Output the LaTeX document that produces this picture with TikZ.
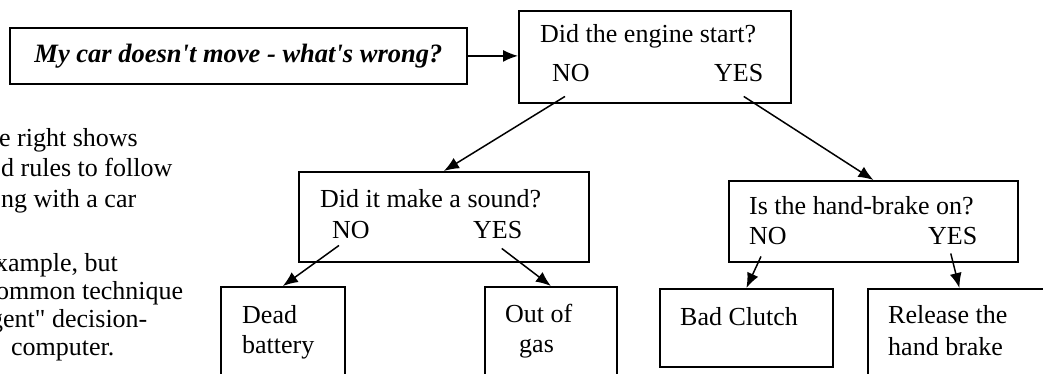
\documentclass[tikz,border=0pt]{standalone}
\usepackage{fontspec}
\setmainfont{Liberation Serif}[Ligatures=TeXOff]
\usetikzlibrary{arrows.meta}

\begin{document}
\begin{tikzpicture}[x=1pt,y=-1pt] % CAR
    \tikzset{%
        >={Latex[length=15pt,width=12pt]}, % filled heads
        box/.style={draw,line width=1.8pt,anchor=north west,inner sep=0pt},
        txt/.style={anchor=base west,inner sep=0pt,
                font=\fontsize{26}{30}\selectfont},
        link/.style={->,line width=1.5pt}%
    }
    \useasboundingbox (0,0) rectangle (1043,374);

    %% left column, cut off by the page edge

    \foreach \x/\y/\t [count=\i] in {-1/147/{e right shows},
            1/177/{d rules to follow}, -12/207/{ong with a car},
            -5/271/{xample, but}, -4/299/{ommon technique},
            -10/327/{gent" decision-}, 11/355/{computer.}}
        \node[txt] (para\i) at (\x,\y) {\t};

    %% boxes

    \node[box,minimum width=457,minimum height=56,
        font=\fontsize{26.5}{30}\selectfont\bfseries\itshape] (title) at (9,27)
        {My car doesn't move - what's wrong?};
    \node[box,minimum width=272,minimum height=92] (engine) at (518,10) {};
    \node[box,minimum width=290,minimum height=90] (sound) at (298,171) {};
    \node[box,minimum width=289,minimum height=81] (hand) at (728,180) {};
    \node[box,minimum width=124,minimum height=100] (dead) at (220,286) {};
    \node[box,minimum width=132,minimum height=100] (gas) at (484,286) {};
    \node[box,minimum width=173,minimum height=78] (clutch) at (659,288) {};
    \node[box,minimum width=183,minimum height=100] (release) at (867,288) {};

    %% questions and answers

    \node[txt] (engineQ) at (540,43) {Did the engine start?};
    \node[txt] (engineNo) at (552,82) {NO};
    \node[txt] (engineYes) at (714,82) {YES};
    \node[txt] (soundQ) at (320,207) {Did it make a sound?};
    \node[txt] (soundNo) at (332,238) {NO};
    \node[txt] (soundYes) at (473,238) {YES};
    \node[txt] (handQ) at (749,214) {Is the hand-brake on?};
    \node[txt] (handNo) at (749,244) {NO};
    \node[txt] (handYes) at (928,244) {YES};

    %% leaves

    \node[txt] (deadA) at (242,323) {Dead};
    \node[txt] (deadB) at (242,353) {battery};
    \node[txt] (gasA) at (505,322) {Out of};
    \node[txt] (gasB) at (519,352) {gas};
    \node[txt] (clutchA) at (680,325) {Bad Clutch};
    \node[txt] (releaseA) at (888,323) {Release the};
    \node[txt] (releaseB) at (888,355) {hand brake};

    %% connectors

    \draw[link] (title.east) -- (title.east -| engine.west);
    \draw[link] ([shift={(-6,14)}]engineNo.south) -- (sound.north);
    \draw[link] ([shift={(5,14)}]engineYes.south) -- (hand.north);
    \draw[link] ([shift={(-12,7)}]soundNo.south) -- (dead.north);
    \draw[link] ([shift={(4,10)}]soundYes.south) -- (gas.north);
    \draw[link] ([shift={(-7,12)}]handNo.south) -- (clutch.north);
    \draw[link] ([shift={(-2,9)}]handYes.south) -- (release.north);
\end{tikzpicture}
\end{document}
